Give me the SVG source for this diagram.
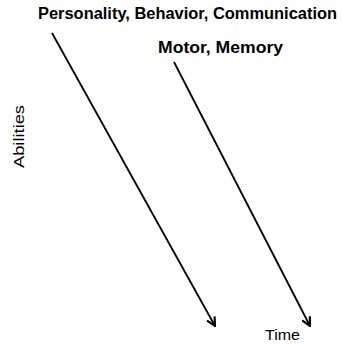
<svg xmlns="http://www.w3.org/2000/svg" width="342" height="344" viewBox="0 0 342 344">
  <style>
    .lbl { font-family: "Liberation Sans", Arial, sans-serif; fill: #000; }
    .bold { font-weight: bold; font-size: 16px; }
    .reg { font-size: 15px; }
    .conn { stroke: #000; stroke-width: 1.8; fill: none; marker-end: url(#arrow); }
  </style>
  <defs>
    <marker id="arrow" viewBox="0 0 10 10" refX="9" refY="5" markerWidth="6" markerHeight="6" orient="auto" markerUnits="strokeWidth">
      <path d="M1,1 L9,5 L1,9" fill="none" stroke="#000" stroke-width="2" stroke-linejoin="miter"/>
    </marker>
  </defs>
  <rect width="342" height="344" fill="#fff"/>

  <g id="label-personality">
    <text class="lbl bold" x="38" y="19" textLength="299" lengthAdjust="spacingAndGlyphs">Personality, Behavior, Communication</text>
  </g>
  <g id="label-motor">
    <text class="lbl bold" x="158" y="53" textLength="125" lengthAdjust="spacingAndGlyphs">Motor, Memory</text>
  </g>
  <g id="axis-abilities">
    <text class="lbl reg" transform="translate(24,168) rotate(-90)" x="0" y="0" textLength="63" lengthAdjust="spacingAndGlyphs">Abilities</text>
  </g>
  <g id="axis-time">
    <text class="lbl reg" x="265" y="340" textLength="35" lengthAdjust="spacingAndGlyphs">Time</text>
  </g>

  <g id="connectors">
    <line class="conn" x1="52" y1="33" x2="215" y2="326"/>
    <line class="conn" x1="174" y1="62" x2="310" y2="326"/>
  </g>
</svg>
